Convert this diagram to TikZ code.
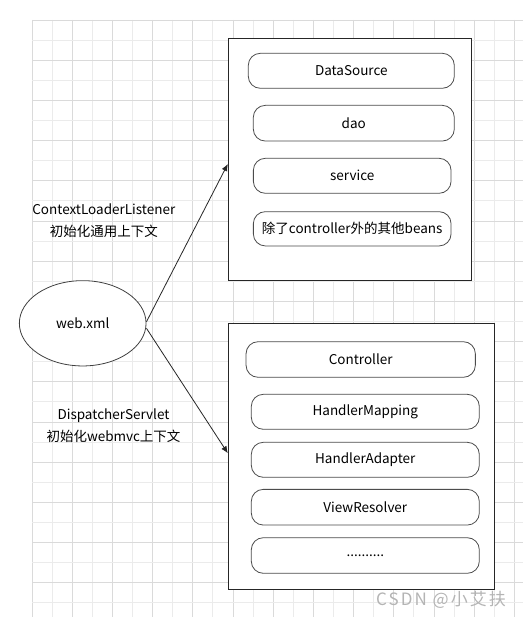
\documentclass[tikz,border=0pt]{standalone}
\usepackage{fontspec}
\setmainfont{Noto Sans CJK SC}
\usetikzlibrary{shapes.geometric,arrows.meta}
\definecolor{gridminor}{HTML}{EBEBEB}
\definecolor{gridmajor}{HTML}{DADADA}
\definecolor{wmark}{HTML}{B4B4B4}
\begin{document}
\begin{tikzpicture}[x=1bp,y=-1bp,
  container/.style={draw=black!85, line width=1bp, inner sep=0pt, fill=white},
  bean/.style={draw=black!70, line width=0.8bp, rounded corners=12bp, inner sep=0pt,
    font=\fontsize{13.5bp}{16bp}\selectfont},
  lbl/.style={align=center, font=\fontsize{13.5bp}{21.7bp}\selectfont},
  conn/.style={draw=black!85, line width=0.8bp, -{Latex[length=7bp,width=6bp]}}]
\useasboundingbox (0,0) rectangle (523,617);
\fill[white] (0,0) rectangle (523,617);
% grid
\foreach \k in {0,...,24}{
  \pgfmathsetmacro{\xx}{32+20.1*\k}
  \pgfmathtruncatemacro{\ev}{mod(\k,2)}
  \ifnum\ev=0 \draw[gridmajor, line width=0.9bp] (\xx,20) -- (\xx,617);
  \else \draw[gridminor, line width=0.9bp] (\xx,20) -- (\xx,617); \fi
}
\foreach \k in {0,...,29}{
  \pgfmathsetmacro{\yy}{20+20.1*\k}
  \pgfmathtruncatemacro{\ev}{mod(\k,2)}
  \ifnum\ev=0 \draw[gridmajor, line width=0.9bp] (32,\yy) -- (523,\yy);
  \else \draw[gridminor, line width=0.9bp] (32,\yy) -- (523,\yy); \fi
}
% containers
\node[container, minimum width=243.4bp, minimum height=242.4bp] (top) at (350,159.5) {};
\node[container, minimum width=266bp, minimum height=265.7bp] (bot) at (361.3,456.2) {};
% top beans
\node[bean, minimum width=206bp, minimum height=35bp] (ds) at (351.3,70.8) {DataSource};
\node[bean, minimum width=201bp, minimum height=35.7bp] (dao) at (353.8,123.2) {dao};
\node[bean, minimum width=197.7bp, minimum height=35bp] (svc) at (352.2,175.8) {service};
\node[bean, minimum width=197.7bp, minimum height=34.3bp] (oth) at (352.2,228.8) {除了controller外的其他beans};
% bottom beans
\node[bean, minimum width=229.3bp, minimum height=35.6bp] (ctl) at (360.7,359.5) {Controller};
\node[bean, minimum width=228bp, minimum height=35bp] (hm) at (365.3,411.8) {HandlerMapping};
\node[bean, minimum width=228bp, minimum height=35bp] (ha) at (365.3,459.8) {HandlerAdapter};
\node[bean, minimum width=228bp, minimum height=35.7bp] (vr) at (365.3,507.2) {ViewResolver};
\node[bean, minimum width=228bp, minimum height=35.6bp] (more) at (365.3,555.5) {..........};
% web.xml
\node[ellipse, draw=black!75, line width=0.8bp, fill=white, minimum width=126.7bp, minimum height=85.3bp,
  inner sep=0pt, font=\fontsize{13.5bp}{16bp}\selectfont] (web) at (82.7,323.3) {web.xml};
% labels
\node[lbl] (l1) at (103.8,221) {ContextLoaderListener\\初始化通用上下文};
\node[lbl] (l2) at (113.5,425.5) {DispatcherServlet\\初始化webmvc上下文};
% connectors
\draw[conn] ([yshift=1.5bp]web.east) -- ([yshift=-4.5bp]top.west);
\draw[conn] ([yshift=-5bp]web.east) -- ([yshift=3bp]bot.west);
% watermark
\node[text=wmark, font=\fontsize{17bp}{19bp}\selectfont\addfontfeatures{LetterSpace=12}] (wm) at (441,600) {CSDN @小艾扶};
\end{tikzpicture}
\end{document}
